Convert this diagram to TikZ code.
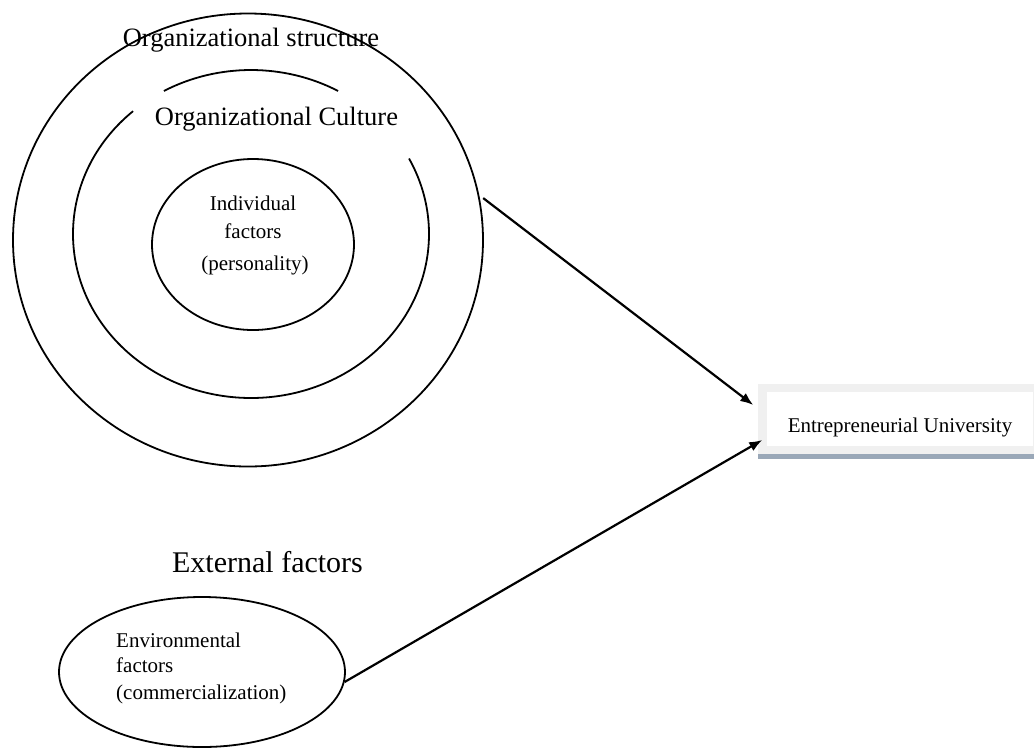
\documentclass[tikz,border=0pt]{standalone}
\usepackage{fontspec}
\setmainfont{Liberation Serif}
\usetikzlibrary{shapes.geometric,arrows.meta,calc}
\definecolor{bandgray}{RGB}{240,240,240}
\definecolor{shadowblue}{RGB}{154,168,184}
\begin{document}
\begin{tikzpicture}[x=1pt,y=1pt,
  ring/.style={draw=black, line width=1.8pt, ellipse, inner sep=0pt},
  ringline/.style={draw=black, line width=1.8pt},
  conn/.style={line width=2.2pt, -{Latex[length=13pt,width=10pt]}},
  big/.style={font=\fontsize{26.5}{30}\selectfont, inner sep=0pt},
  ext/.style={font=\fontsize{30}{34}\selectfont, inner sep=0pt},
  small/.style={font=\fontsize{21}{25}\selectfont, inner sep=0pt},
  eubox/.style={draw=bandgray, line width=8.5pt, fill=white, inner sep=0pt,
    minimum width=275pt, minimum height=62pt, text height=26pt, text depth=0pt,
    font=\fontsize{21}{25}\selectfont},
  ]
\useasboundingbox (0,0) rectangle (1034,-748);

% outer ring: organizational structure
\node[ring, minimum width=470pt, minimum height=453pt] (outer) at (248,-240) {};
\node[big, anchor=base] (os) at (251,-46) {Organizational structure};

% middle ring (with gaps): organizational culture
\coordinate (mc) at (251,-234);
\draw[ringline] ($(mc)+(60.7:178pt and 164pt)$) arc[start angle=60.7, end angle=119.3, x radius=178pt, y radius=164pt];
\draw[ringline] ($(mc)+(131.5:178pt and 164pt)$) arc[start angle=131.5, end angle=387.4, x radius=178pt, y radius=164pt];
\node[big, anchor=base] (oc) at (276.5,-125) {Organizational Culture};

% inner ring: individual factors
\node[ring, minimum width=202pt, minimum height=171pt] (indiv) at (253,-244.5) {};
\node[small, anchor=base] (i1) at (253,-210) {Individual};
\node[small, anchor=base] (i2) at (253,-238) {factors};
\node[small, anchor=base] (i3) at (255,-270) {(personality)};

% external factors
\node[ext, anchor=base] (extf) at (267.5,-572) {External factors};
\node[ring, minimum width=286pt, minimum height=150pt] (env) at (202,-672) {};
\node[small, anchor=base west] (e1) at (116,-647) {Environmental};
\node[small, anchor=base west] (e2) at (116,-672) {factors};
\node[small, anchor=base west] (e3) at (116,-699) {(commercialization)};

% entrepreneurial university box
\node[eubox] (eu) at (900,-419) {Entrepreneurial University};
\fill[shadowblue] (eu.south west) rectangle ([xshift=20pt,yshift=-5pt]eu.south east);

% connectors
\coordinate (t1) at ($(eu.west)+(-5,14)$);
\coordinate (t2) at ($(eu.west)+(4,-21)$);
\draw[conn, shorten <=5pt] (outer.11) -- (t1);
\draw[conn] (env.-4) -- (t2);
\end{tikzpicture}
\end{document}
